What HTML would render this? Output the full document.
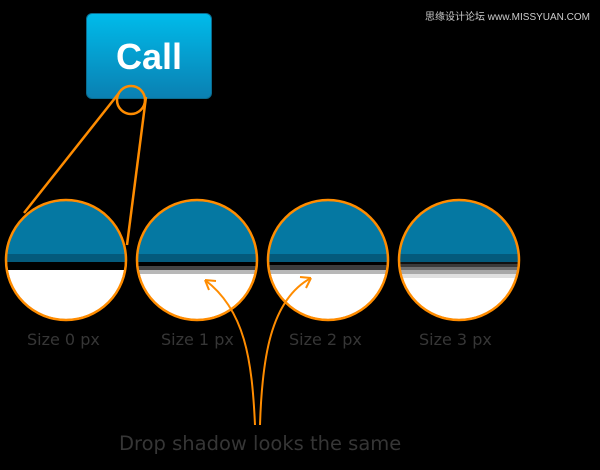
<!DOCTYPE html>
<html><head><style>
body{margin:0;background:#000;width:600px;height:470px;overflow:hidden;position:relative;font-family:"Liberation Sans",sans-serif}
.btn{position:absolute;left:86px;top:13px;width:124px;height:84px;border-radius:6px;border:1px solid #0a6b8e;background:linear-gradient(#00bbea,#0a80b2);color:#fff;font-size:36px;font-weight:bold;text-align:center;line-height:86px}
.lbl{position:absolute;color:#363636;font-size:17px;font-family:"Comic Sans MS","DejaVu Sans",sans-serif}
.wm{position:absolute;left:425px;top:8px;color:#ccc;font-size:10px;font-family:"Liberation Sans","Noto Sans CJK SC",sans-serif}
</style></head><body>
<div class="btn">Call</div>
<div class="wm">思缘设计论坛 www.MISSYUAN.COM</div>
<svg width="600" height="470" style="position:absolute;left:0;top:0">
<defs>
<clipPath id="c0"><circle cx="66" cy="260" r="59"/></clipPath>
<clipPath id="c1"><circle cx="197" cy="260" r="59"/></clipPath>
<clipPath id="c2"><circle cx="328" cy="260" r="59"/></clipPath>
<clipPath id="c3"><circle cx="459" cy="260" r="59"/></clipPath>
</defs>
<g clip-path="url(#c0)"><rect x="0" y="195" width="140" height="130" fill="#fff"/><rect x="0" y="195" width="140" height="59" fill="#0578a2"/><rect x="0" y="254" width="140" height="8" fill="#045a7c"/><rect x="0" y="262" width="140" height="8" fill="#000"/></g>
<g clip-path="url(#c1)"><rect x="130" y="195" width="140" height="130" fill="#fff"/><rect x="130" y="195" width="140" height="59" fill="#0578a2"/><rect x="130" y="254" width="140" height="8" fill="#045a7c"/><rect x="130" y="262" width="140" height="4" fill="#000"/><rect x="130" y="266" width="140" height="4" fill="#444"/><rect x="130" y="270" width="140" height="4" fill="#b8b8b8"/></g>
<g clip-path="url(#c2)"><rect x="260" y="195" width="140" height="130" fill="#fff"/><rect x="260" y="195" width="140" height="59" fill="#0578a2"/><rect x="260" y="254" width="140" height="8" fill="#045a7c"/><rect x="260" y="262" width="140" height="3" fill="#000"/><rect x="260" y="265" width="140" height="5" fill="#3c3c3c"/><rect x="260" y="270" width="140" height="4" fill="#b8b8b8"/></g>
<g clip-path="url(#c3)"><rect x="390" y="195" width="140" height="130" fill="#fff"/><rect x="390" y="195" width="140" height="59" fill="#0578a2"/><rect x="390" y="254" width="140" height="8" fill="#045a7c"/><rect x="390" y="262" width="140" height="2" fill="#111"/><rect x="390" y="264" width="140" height="3" fill="#3a3a3a"/><rect x="390" y="267" width="140" height="3" fill="#707070"/><rect x="390" y="270" width="140" height="4" fill="#a8a8a8"/><rect x="390" y="274" width="140" height="4" fill="#e0e0e0"/></g>
<g fill="none" stroke="#ff8c00" stroke-width="2.5">
<circle cx="66" cy="260" r="60"/><circle cx="197" cy="260" r="60"/><circle cx="328" cy="260" r="60"/><circle cx="459" cy="260" r="60"/>
<circle cx="131" cy="100" r="14"/>
<line x1="119" y1="93" x2="24" y2="213"/>
<line x1="146" y1="97" x2="127" y2="245"/>
</g>
<g fill="none" stroke="#ff8c00" stroke-width="2">
<path d="M255 425 C252 360 245 310 205 280"/>
<path d="M205 280 L216 281 M205 280 L209 290"/>
<path d="M260 425 C262 360 270 300 311 278"/>
<path d="M311 278 L300 277 M311 278 L306 288"/>
</g>
</svg>
<div class="lbl" style="left:27px;top:330px;font-size:16px">Size 0 px</div>
<div class="lbl" style="left:161px;top:330px;font-size:16px">Size 1 px</div>
<div class="lbl" style="left:289px;top:330px;font-size:16px">Size 2 px</div>
<div class="lbl" style="left:419px;top:330px;font-size:16px">Size 3 px</div>
<div class="lbl" style="left:119px;top:432px;font-size:19.5px">Drop shadow looks the same</div>
</body></html>
